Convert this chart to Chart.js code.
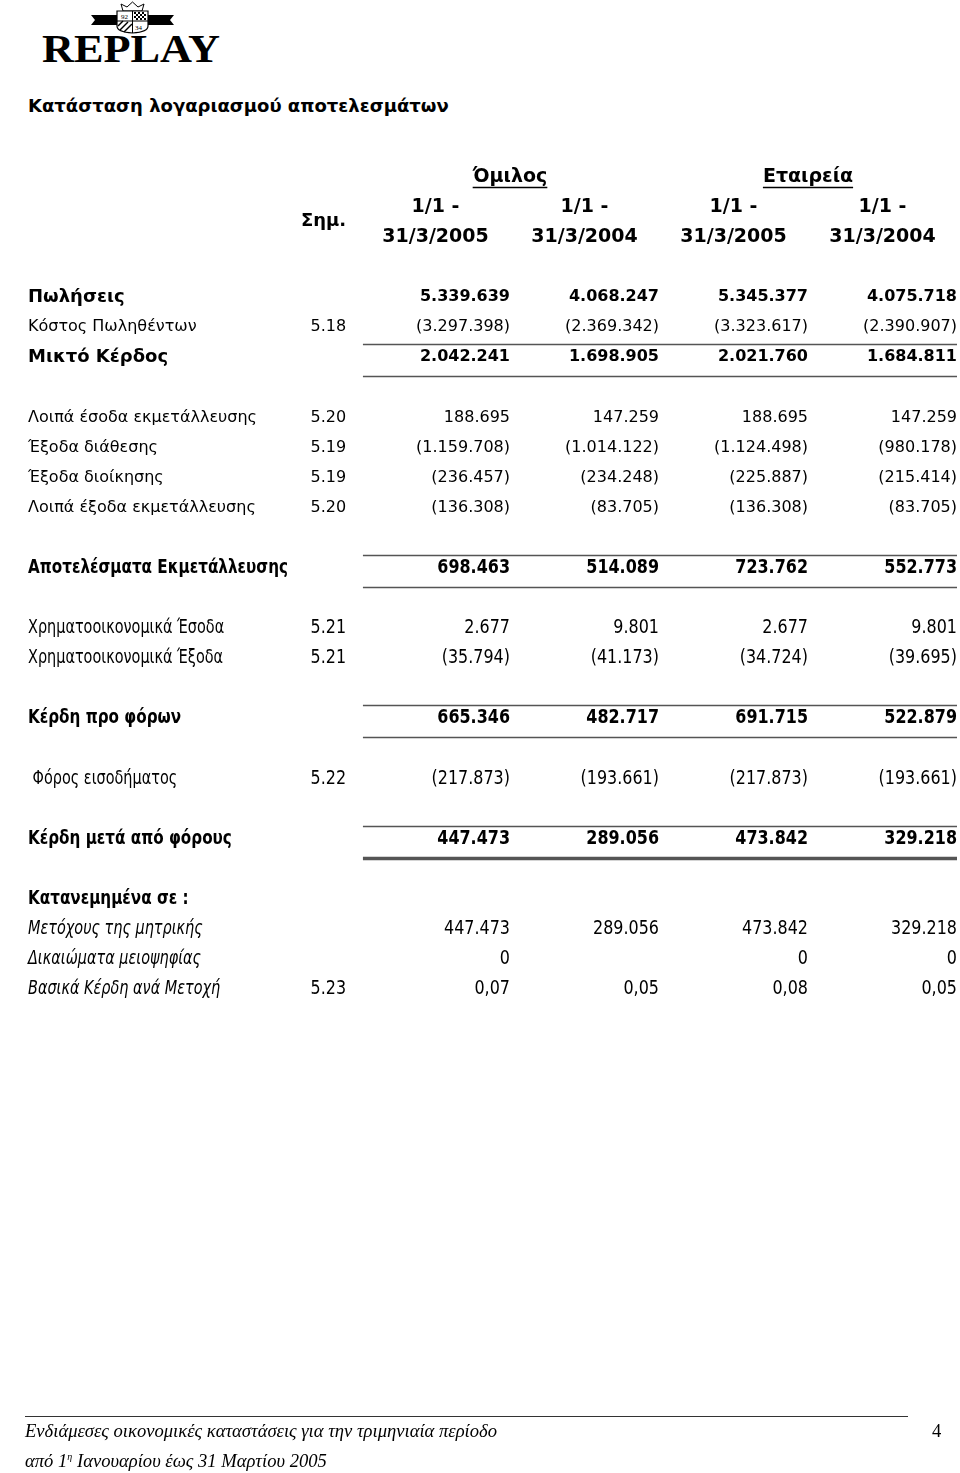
<!DOCTYPE html>
<html lang="el">
<head>
<meta charset="utf-8">
<title>Κατάσταση λογαριασμού αποτελεσμάτων</title>
<script src="https://cdn.jsdelivr.net/npm/chart.js@4.4.1/dist/chart.umd.min.js"></script>
<style>
  html, body { margin: 0; padding: 0; background: #fff; }
  #page { position: relative; width: 960px; height: 1473px; overflow: hidden; }
  #sheet { position: absolute; left: 0; top: 0; }
  #logo { position: absolute; left: 0; top: 0; }
  #title { position: absolute; left: 28px; top: 95px; font: bold 18px "DejaVu Sans", sans-serif; color: #000; }
  #footLine { position: absolute; left: 25px; top: 1416px; width: 883px; border-top: 1px solid #333; }
  .foot { position: absolute; font: italic 18.6px "Liberation Serif", serif; color: #000; white-space: nowrap; }
  .foot sup { font-size: 10px; }
</style>
</head>
<body>
<div id="page">
  <svg id="logo" width="240" height="70" viewBox="0 0 240 70">
    <!-- crown -->
    <path d="M123 11 L121 4 L127 7 L132.5 2 L138 7 L144 4 L142 11 Z" fill="#fff" stroke="#000" stroke-width="1"/>
    <!-- ribbon -->
    <path d="M91 15 L118 15 L118 25 L91 25 L95 20 Z" fill="#000"/>
    <path d="M147 15 L174 15 L170 20 L174 25 L147 25 Z" fill="#000"/>
    <!-- shield -->
    <path d="M117 11 L148 11 L148 26 Q148 32 132.5 33 Q117 32 117 26 Z" fill="#fff" stroke="#000" stroke-width="1.2"/>
    <line x1="132.5" y1="11" x2="132.5" y2="33" stroke="#000" stroke-width="1"/>
    <line x1="117" y1="21" x2="148" y2="21" stroke="#000" stroke-width="1"/>
    <text x="121" y="19" font-family="Liberation Serif" font-size="7" fill="#000">92</text>
    <g fill="#000">
      <rect x="134" y="12" width="2" height="2"/><rect x="138" y="12" width="2" height="2"/><rect x="142" y="12" width="2" height="2"/>
      <rect x="136" y="14" width="2" height="2"/><rect x="140" y="14" width="2" height="2"/><rect x="144" y="14" width="2" height="2"/>
      <rect x="134" y="16" width="2" height="2"/><rect x="138" y="16" width="2" height="2"/><rect x="142" y="16" width="2" height="2"/>
      <rect x="136" y="18" width="2" height="2"/><rect x="140" y="18" width="2" height="2"/><rect x="144" y="18" width="2" height="2"/>
    </g>
    <g stroke="#000" stroke-width="1.5">
      <line x1="118" y1="26" x2="123" y2="21"/><line x1="120" y1="30" x2="128" y2="22"/><line x1="124" y1="32" x2="132" y2="24"/>
    </g>
    <text x="135" y="30" font-family="Liberation Serif" font-size="7" fill="#000">34</text>
    <text x="42" y="62" font-family="Liberation Serif" font-weight="bold" font-size="39" textLength="178" lengthAdjust="spacingAndGlyphs" fill="#000">REPLAY</text>
  </svg>
  <div id="title">Κατάσταση λογαριασμού αποτελεσμάτων</div>
  <canvas id="sheet" width="960" height="1473"></canvas>
  <div id="footLine"></div>
  <div class="foot" style="left:25px; top:1420px;">Ενδιάμεσες οικονομικές καταστάσεις για την τριμηνιαία περίοδο</div>
  <div class="foot" style="left:932px; top:1420px; font-style:normal;">4</div>
  <div class="foot" style="left:25px; top:1450px;">από 1<sup>η</sup> Ιανουαρίου έως 31 Μαρτίου 2005</div>
</div>
<script>
// γραμμές του πίνακα (κενές θέσεις = κενή γραμμή)
const rowLabels = [
    'Πωλήσεις', 'Κόστος Πωληθέντων', 'Μικτό Κέρδος', '',
    'Λοιπά έσοδα εκμετάλλευσης', 'Έξοδα διάθεσης', 'Έξοδα διοίκησης', 'Λοιπά έξοδα εκμετάλλευσης', '',
    'Αποτελέσματα Εκμετάλλευσης', '',
    'Χρηματοοικονομικά Έσοδα', 'Χρηματοοικονομικά Έξοδα', '',
    'Κέρδη προ φόρων', '',
    ' Φόρος εισοδήματος', '',
    'Κέρδη μετά από φόρους', '',
    'Κατανεμημένα σε :', 'Μετόχους της μητρικής', 'Δικαιώματα μειοψηφίας', 'Βασικά Κέρδη ανά Μετοχή'
];
const noteRefs = ['', '5.18', '', '', '5.20', '5.19', '5.19', '5.20', '', '', '', '5.21', '5.21', '', '', '', '5.22', '', '', '', '', '', '', '5.23'];

const groupHeads = ['Όμιλος', 'Εταιρεία'];
const periodFrom = ['1/1 -', '1/1 -', '1/1 -', '1/1 -'];
const periodTo = ['31/3/2005', '31/3/2004', '31/3/2005', '31/3/2004'];
const noteHead = 'Σημ.';

const group2005 = [5339639, -3297398, 2042241, null, 188695, -1159708, -236457, -136308, null, 698463, null, 2677, -35794, null, 665346, null, -217873, null, 447473, null, null, 447473, 0, 0.07];
const group2004 = [4068247, -2369342, 1698905, null, 147259, -1014122, -234248, -83705, null, 514089, null, 9801, -41173, null, 482717, null, -193661, null, 289056, null, null, 289056, null, 0.05];
const company2005 = [5345377, -3323617, 2021760, null, 188695, -1124498, -225887, -136308, null, 723762, null, 2677, -34724, null, 691715, null, -217873, null, 473842, null, null, 473842, 0, 0.08];
const company2004 = [4075718, -2390907, 1684811, null, 147259, -980178, -215414, -83705, null, 552773, null, 9801, -39695, null, 522879, null, -193661, null, 329218, null, null, 329218, 0, 0.05];

const valueSeries = [group2005, group2004, company2005, company2004];

// διάταξη
const labelCol = -1.235;
const noteCol = 0.9;
const valueCols = [2, 3, 4, 5];
const boldRows = [0, 2, 9, 14, 18, 20];
const italicRows = [21, 22, 23];
const totalRows = [2, 9, 14, 18];
const condensedFrom = 9;

function fmt(v) {
    if (v === null) return null;
    const a = Math.abs(v);
    let s = Number.isInteger(a) ? a.toString().replace(/\B(?=(\d{3})+(?!\d))/g, '.') : a.toFixed(2).replace('.', ',');
    return v < 0 ? '(' + s + ')' : s;
}

function cellPoints(col, texts) {
    const pts = [];
    texts.forEach((t, r) => {
        if (t !== null && t !== '') pts.push({ x: col, y: r, text: t });
    });
    return pts;
}

const datasets = [
    { kind: 'label', align: 'left', data: cellPoints(labelCol, rowLabels) },
    { kind: 'note', align: 'right', data: cellPoints(noteCol, noteRefs) }
];
valueSeries.forEach((s, i) => {
    datasets.push({ kind: 'value', align: 'right', data: cellPoints(valueCols[i], s.map(fmt)) });
});
const headPts = [];
groupHeads.forEach((h, i) => headPts.push({ x: valueCols[i * 2], y: -4, text: h, under: true }));
periodFrom.forEach((p, i) => headPts.push({ x: valueCols[i] - 0.5, y: -3, text: p }));
periodTo.forEach((p, i) => headPts.push({ x: valueCols[i] - 0.5, y: -2, text: p }));
datasets.push({ kind: 'head', align: 'center', data: headPts });
datasets.push({ kind: 'note', align: 'right', head: true, data: [{ x: noteCol, y: -2.5, text: noteHead }] });
datasets.forEach(d => { d.pointRadius = 0; d.pointHoverRadius = 0; });

function cellFont(ds, row) {
    let size = 16, sx = 1, weight = '', style = '';
    if (ds.kind === 'head') return { font: 'bold 19px', sx: 1 };
    if (ds.head) return { font: 'bold 18px', sx: 1 };
    const bold = boldRows.includes(row) && ds.kind !== 'note';
    if (bold) weight = 'bold ';
    if (italicRows.includes(row) && ds.kind === 'label') style = 'italic ';
    if (row >= condensedFrom) {
        size = 19;
        sx = 0.84;
        if (ds.kind === 'label') sx = bold ? 0.8 : 0.76;
    } else if (bold && ds.kind === 'label') {
        size = 18;
    }
    return { font: style + weight + size + 'px', sx: sx };
}

const cellText = {
    id: 'cellText',
    afterDatasetsDraw(chart) {
        const ctx = chart.ctx;
        const xs = chart.scales.x, ys = chart.scales.y;
        ctx.save();
        ctx.fillStyle = '#000';
        ctx.textBaseline = 'middle';

        // γραμμές αθροισμάτων
        ctx.strokeStyle = '#555';
        totalRows.forEach(r => {
            const x0 = xs.getPixelForValue(1.013), x1 = xs.getPixelForValue(5);
            const yTop = Math.round(ys.getPixelForValue(r - 0.43)) + 0.5;
            const yBot = Math.round(ys.getPixelForValue(r + 0.63)) + 0.5;
            ctx.lineWidth = 1.5;
            ctx.beginPath(); ctx.moveTo(x0, yTop); ctx.lineTo(x1, yTop); ctx.stroke();
            ctx.lineWidth = r === 18 ? 3.5 : 1.5;
            ctx.beginPath(); ctx.moveTo(x0, yBot); ctx.lineTo(x1, yBot); ctx.stroke();
        });

        chart.data.datasets.forEach((ds, di) => {
            const meta = chart.getDatasetMeta(di);
            meta.data.forEach((el, i) => {
                const p = ds.data[i];
                const f = cellFont(ds, p.y);
                ctx.font = f.font + ' "DejaVu Sans", sans-serif';
                ctx.textAlign = ds.align;
                ctx.save();
                ctx.translate(el.x, el.y);
                ctx.scale(f.sx, 1);
                ctx.fillText(p.text, 0, 0);
                ctx.restore();
                if (p.under) {
                    const w = ctx.measureText(p.text).width;
                    ctx.lineWidth = 1.5;
                    ctx.strokeStyle = '#000';
                    ctx.beginPath();
                    ctx.moveTo(el.x - w / 2, el.y + 11);
                    ctx.lineTo(el.x + w / 2, el.y + 11);
                    ctx.stroke();
                }
            });
        });
        ctx.restore();
    }
};

const rowStep = 30.1, firstRowPx = 297, H = 1473;
new Chart(document.getElementById('sheet'), {
    type: 'scatter',
    data: { datasets: datasets },
    options: {
        responsive: false,
        animation: false,
        events: [],
        layout: { padding: 0 },
        plugins: { legend: { display: false }, tooltip: { enabled: false } },
        scales: {
            x: { type: 'linear', display: false, min: 2 - 510 / 149, max: 5 + 3 / 149 },
            y: { type: 'linear', display: false, reverse: true, min: -firstRowPx / rowStep, max: (H - firstRowPx) / rowStep }
        }
    },
    plugins: [cellText]
});
</script>
</body>
</html>
